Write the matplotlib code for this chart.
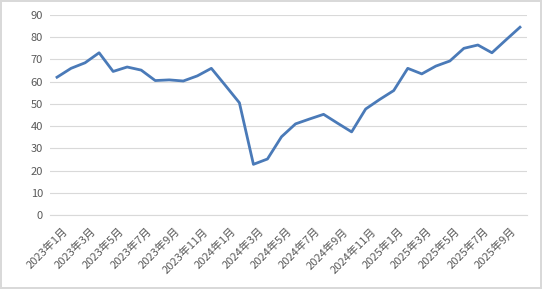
import matplotlib.pyplot as plt
import matplotlib.transforms as mtransforms

# monthly values, 2023-01 .. 2025-10
months = []
for year in (2023, 2024, 2025):
    for m in range(1, 13):
        months.append(f"{year}年{m}月")
months = months[:34]

values = [62, 66, 68.5, 73, 64.6, 66.6, 65.2, 60.5, 60.8, 60.3, 62.6, 66,
          58.3, 50.5, 22.8, 25.2, 35.2, 41, 43.2, 45.3, 41.3, 37.4, 47.7, 52,
          56, 66, 63.5, 67, 69.3, 75, 76.5, 73, 78.8, 84.5]

y_ticks = list(range(0, 91, 10))

plt.rcParams["font.family"] = ["Noto Sans CJK SC", "DejaVu Sans"]

fig = plt.figure(figsize=(5.42, 2.89), dpi=100)
fig.patch.set_edgecolor("#d9d9d9")
fig.patch.set_linewidth(1.5)
ax = fig.add_axes([50 / 542, 1 - 215 / 289, 477 / 542, 200 / 289])

x = list(range(len(values)))
ax.plot(x, values, color="#4a7ab8", lw=2.0, solid_joinstyle="round", zorder=3)

ax.set_xlim(-0.5, len(values) - 0.5)
ax.set_ylim(0, 90)
ax.set_yticks(y_ticks)
ax.set_yticklabels([str(v) for v in y_ticks], fontsize=8, color="#595959")
ax.grid(axis="y", color="#d9d9d9", lw=0.8)
ax.set_axisbelow(True)

ax.set_xticks(x[::2])
ax.set_xticklabels(months[::2], rotation=45, ha="right", rotation_mode="anchor",
                   fontsize=8, color="#595959")
ax.tick_params(axis="y", length=0, pad=5)
ax.tick_params(axis="x", length=0, pad=8)
shift = mtransforms.ScaledTranslation(5 / 100, 0, fig.dpi_scale_trans)
for lab in ax.get_xticklabels():
    lab.set_transform(lab.get_transform() + shift)

for side in ("top", "right", "left"):
    ax.spines[side].set_visible(False)
ax.spines["bottom"].set_color("#d9d9d9")
ax.spines["bottom"].set_linewidth(0.8)

fig.savefig("out.png", dpi=100)
